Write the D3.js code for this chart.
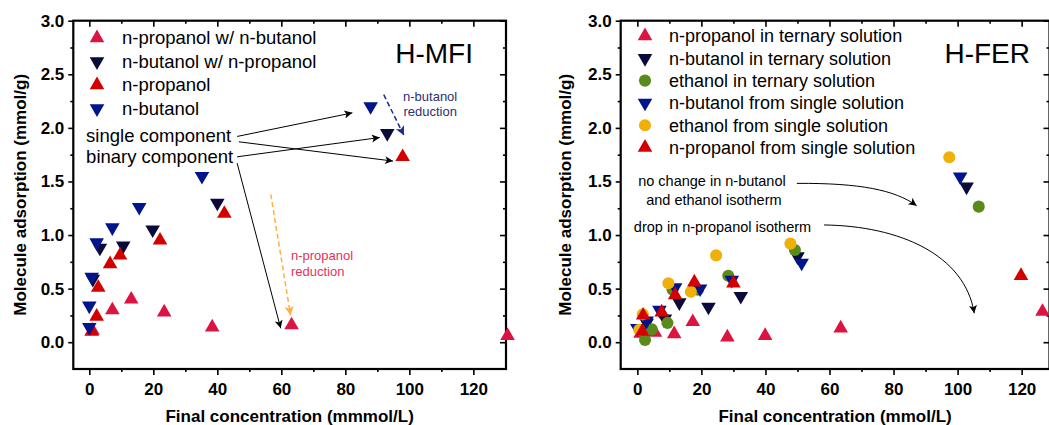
<!DOCTYPE html>
<html><head><meta charset="utf-8">
<script src="https://cdn.jsdelivr.net/npm/d3@7"></script>
<style>
body{margin:0;background:#fff}
svg{display:block}
text{font-family:Arial,"Liberation Sans",sans-serif}
</style>
</head><body>
<svg id="chart" width="1049" height="425"></svg>
<script>
// ---------- shared axis ticks ----------
const xMajorTicks = [0, 20, 40, 60, 80, 100, 120];
const xMinorTicks = [10, 30, 50, 70, 90, 110];
const yMajorTicks = [0, 0.5, 1.0, 1.5, 2.0, 2.5, 3.0];
const yMinorTicks = [0.25, 0.75, 1.25, 1.75, 2.25, 2.75];

// ---------- H-MFI (left) ----------
const mfiLegend = ["n-propanol w/ n-butanol", "n-butanol w/ n-propanol", "n-propanol", "n-butanol"];
const mfiPropBinX = [1.0, 7.2, 13.1, 23.4, 38.4, 63.2, 130.7];
const mfiPropBinY = [0.11, 0.30, 0.40, 0.28, 0.14, 0.16, 0.06];
const mfiButBinX = [1.1, 3.3, 10.6, 19.8, 40.0, 93.1];
const mfiButBinY = [0.59, 0.88, 0.90, 1.05, 1.30, 1.95];
const mfiPropX = [0.75, 2.3, 2.8, 6.5, 9.6, 22.1, 42.2, 97.9];
const mfiPropY = [0.10, 0.24, 0.51, 0.73, 0.81, 0.95, 1.20, 1.73];
const mfiButX = [0.0, 0.0, 0.75, 2.3, 7.2, 15.6, 35.2, 87.9];
const mfiButY = [0.14, 0.34, 0.61, 0.93, 1.07, 1.26, 1.55, 2.20];

// ---------- H-FER (right) ----------
const ferLegend = ["n-propanol in ternary solution", "n-butanol in ternary solution", "ethanol in ternary solution",
                   "n-butanol from single solution", "ethanol from single solution", "n-propanol from single solution"];
const ferPropTerX = [1.0, 5.5, 11.5, 17.3, 28.1, 39.9, 63.5, 126.5];
const ferPropTerY = [0.08, 0.09, 0.077, 0.19, 0.047, 0.06, 0.13, 0.285];
const ferButTerX = [2.9, 8.6, 13.1, 22.2, 32.3, 50.0, 102.8];
const ferButTerY = [0.18, 0.22, 0.37, 0.33, 0.43, 0.80, 1.45];
const ferEthTerX = [2.4, 4.5, 9.4, 11.0, 18.9, 28.4, 49.2, 106.6];
const ferEthTerY = [0.02, 0.12, 0.18, 0.49, 0.49, 0.62, 0.86, 1.265];
const ferButX = [0.0, 2.9, 6.9, 11.8, 19.6, 29.5, 51.3, 100.8];
const ferButY = [0.13, 0.20, 0.30, 0.51, 0.50, 0.58, 0.74, 1.545];
const ferEthX = [0.6, 1.7, 9.7, 16.7, 24.6, 47.8, 97.4];
const ferEthY = [0.115, 0.26, 0.55, 0.47, 0.81, 0.92, 1.726];
const ferPropX = [1.5, 1.8, 7.6, 11.8, 17.8, 30.0, 119.8];
const ferPropY = [0.10, 0.25, 0.28, 0.44, 0.56, 0.55, 0.62];

const C = {crimson:"#dc1442", red:"#d40000", dark:"#0b0b3b", navy:"#00148c", green:"#5b8a1c", gold:"#f0b00a"};

const zip = (xs, ys) => xs.map((x, i) => ({x, y: ys[i]}));

const svg = d3.select("#chart");
const defs = svg.append("defs");
function arrowMarker(id, color, w, h){
  defs.append("marker").attr("id", id).attr("viewBox", "0 0 10 10").attr("refX", 10).attr("refY", 5)
    .attr("markerUnits", "userSpaceOnUse").attr("markerWidth", w).attr("markerHeight", h).attr("orient", "auto")
    .append("path").attr("d", "M0,0 L10,5 L0,10 L2.5,5 Z").attr("fill", color);
}
arrowMarker("ahBlack", "#000", 11, 8);
arrowMarker("ahBlue", "#1b2a8a", 11, 9);
arrowMarker("ahOrange", "#ffb040", 11, 9);

const TRI = 92, CIRC = 115;
function symbolPath(kind){
  const t = kind === "circle" ? d3.symbolCircle : d3.symbolTriangle;
  return d3.symbol().type(t).size(kind === "circle" ? CIRC : TRI)();
}

function drawPanel(cfg){
  const g = svg.append("g");
  const x = d3.scaleLinear().domain(cfg.xDomain).range(cfg.xRange);
  const y = d3.scaleLinear().domain([-0.25, 3.0]).range([369, 20.7]);
  const [x0, x1] = cfg.xRange, y0 = 369, y1 = 20.7;
  const fmt = d3.format(".1f");

  // axes
  g.append("g").attr("transform", `translate(0,${y0})`)
    .call(d3.axisBottom(x).tickValues(xMajorTicks).tickSize(6).tickPadding(8).tickSizeOuter(0));
  g.append("g").attr("transform", `translate(0,${y0})`)
    .call(d3.axisBottom(x).tickValues(xMinorTicks).tickSize(3).tickFormat("").tickSizeOuter(0));
  g.append("g").attr("transform", `translate(0,${y1})`)
    .call(d3.axisTop(x).tickValues(xMajorTicks).tickSize(-6).tickFormat("").tickSizeOuter(0));
  g.append("g").attr("transform", `translate(0,${y1})`)
    .call(d3.axisTop(x).tickValues(xMinorTicks).tickSize(-3).tickFormat("").tickSizeOuter(0));
  g.append("g").attr("transform", `translate(${x0},0)`)
    .call(d3.axisLeft(y).tickValues(yMajorTicks).tickSize(5).tickPadding(4).tickFormat(fmt).tickSizeOuter(0));
  g.append("g").attr("transform", `translate(${x0},0)`)
    .call(d3.axisLeft(y).tickValues(yMinorTicks).tickSize(3).tickFormat("").tickSizeOuter(0));
  g.append("g").attr("transform", `translate(${x1},0)`)
    .call(d3.axisRight(y).tickValues(yMajorTicks).tickSize(-6).tickFormat("").tickSizeOuter(0));
  g.append("g").attr("transform", `translate(${x1},0)`)
    .call(d3.axisRight(y).tickValues(yMinorTicks).tickSize(-3).tickFormat("").tickSizeOuter(0));
  g.selectAll(".domain").remove();
  g.selectAll(".tick line").attr("stroke", "#000").attr("stroke-width", 1.6);
  g.selectAll(".tick text").attr("fill", "#000").style("font-size", "17px").style("font-weight", "bold")
    .style("font-family", "Arial, 'Liberation Sans', sans-serif");

  g.append("rect").attr("x", x0).attr("y", y1).attr("width", x1 - x0).attr("height", y0 - y1)
    .attr("fill", "none").attr("stroke", "#000").attr("stroke-width", 2.2);

  // axis titles
  g.append("text").attr("x", (x0 + x1) / 2).attr("y", 421.5).attr("text-anchor", "middle")
    .style("font-size", "17px").style("font-weight", "bold").text(cfg.xTitle);
  g.append("text").attr("transform", `translate(${cfg.yTitleX},${(y0 + y1) / 2}) rotate(-90)`)
    .attr("text-anchor", "middle").attr("dy", "0.35em")
    .style("font-size", "17px").style("font-weight", "bold").text("Molecule adsorption (mmol/g)");

  // panel title
  g.append("text").attr("x", cfg.titleX).attr("y", 63).attr("text-anchor", "end")
    .style("font-size", "28px").text(cfg.title);

  // annotations (under points)
  const ann = g.append("g");
  (cfg.lines || []).forEach(a => {
    ann.append("line").attr("x1", x(a.x1)).attr("y1", y(a.y1)).attr("x2", x(a.x2)).attr("y2", y(a.y2))
      .attr("stroke", a.color).attr("stroke-width", a.w).attr("stroke-dasharray", a.dash || null)
      .attr("marker-end", `url(#${a.marker})`);
  });
  (cfg.curves || []).forEach(a => {
    const p = d3.path();
    p.moveTo(x(a.p[0]), y(a.p[1]));
    p.bezierCurveTo(x(a.p[2]), y(a.p[3]), x(a.p[4]), y(a.p[5]), x(a.p[6]), y(a.p[7]));
    ann.append("path").attr("d", p.toString()).attr("fill", "none").attr("stroke", "#000")
      .attr("stroke-width", 1).attr("marker-end", "url(#ahBlack)");
  });
  (cfg.texts || []).forEach(t => {
    ann.append("text").attr("x", x(t.x)).attr("y", y(t.y)).attr("dy", "0.35em")
      .attr("text-anchor", t.anchor || "start").attr("fill", t.color || "#000")
      .style("font-size", t.size + "px").text(t.text);
  });

  // points
  cfg.series.forEach(s => {
    g.append("g").selectAll("path").data(s.data).join("path")
      .attr("d", symbolPath(s.shape))
      .attr("transform", d => `translate(${x(d.x)},${y(d.y)})` + (s.shape === "down" ? " rotate(180)" : ""))
      .attr("fill", s.color);
  });

  // legend
  const lg = g.append("g");
  cfg.series.forEach((s, i) => {
    const ly = cfg.legendY + i * cfg.legendStep;
    lg.append("path").attr("d", symbolPath(s.shape))
      .attr("transform", `translate(${cfg.legendMarkX},${ly})` + (s.shape === "down" ? " rotate(180)" : ""))
      .attr("fill", s.color);
    lg.append("text").attr("x", cfg.legendTextX).attr("y", ly).attr("dy", "0.35em")
      .style("font-size", cfg.legendSize + "px").text(cfg.legendLabels[i]);
  });
}

drawPanel({
  xDomain: [-5, 130.2], xRange: [73.3, 506],
  xTitle: "Final concentration (mmmol/L)", yTitleX: 20,
  title: "H-MFI", titleX: 473,
  legendLabels: mfiLegend, legendY: 38, legendStep: 23.5, legendMarkX: 97, legendTextX: 122, legendSize: 18.5,
  series: [
    {shape: "up", color: C.crimson, data: zip(mfiPropBinX, mfiPropBinY)},
    {shape: "down", color: C.dark, data: zip(mfiButBinX, mfiButBinY)},
    {shape: "up", color: C.red, data: zip(mfiPropX, mfiPropY)},
    {shape: "down", color: C.navy, data: zip(mfiButX, mfiButY)}
  ],
  lines: [
    {x1: 46.2, y1: 1.92, x2: 82.2, y2: 2.14, color: "#000", w: 1, marker: "ahBlack"},
    {x1: 46.7, y1: 1.87, x2: 94.9, y2: 1.69, color: "#000", w: 1, marker: "ahBlack"},
    {x1: 46.2, y1: 1.73, x2: 90.75, y2: 1.91, color: "#000", w: 1, marker: "ahBlack"},
    {x1: 46.2, y1: 1.67, x2: 59.8, y2: 0.13, color: "#000", w: 1, marker: "ahBlack"},
    {x1: 92.0, y1: 2.31, x2: 98.3, y2: 1.93, color: "#1b2a8a", w: 1.5, dash: "5,3", marker: "ahBlue"},
    {x1: 56.7, y1: 1.38, x2: 62.9, y2: 0.25, color: "#ffb040", w: 1.5, dash: "5,3", marker: "ahOrange"}
  ],
  texts: [
    {x: -1.0, y: 1.924, text: "single component", size: 18.5},
    {x: -1.0, y: 1.729, text: "binary component", size: 18.5},
    {x: 106.5, y: 2.297, text: "n-butanol", size: 13, anchor: "middle", color: "#2e3070"},
    {x: 106.5, y: 2.151, text: "reduction", size: 13, anchor: "middle", color: "#2e3070"},
    {x: 63.0, y: 0.805, text: "n-propanol", size: 13, color: "#e8315a"},
    {x: 63.0, y: 0.656, text: "reduction", size: 13, color: "#e8315a"}
  ]
});

drawPanel({
  xDomain: [-5.2, 128.7], xRange: [620.7, 1049.5],
  xTitle: "Final concentration (mmol/L)", yTitleX: 565,
  title: "H-FER", titleX: 1030,
  legendLabels: ferLegend, legendY: 36, legendStep: 22.3, legendMarkX: 645, legendTextX: 669, legendSize: 18,
  series: [
    {shape: "up", color: C.crimson, data: zip(ferPropTerX, ferPropTerY)},
    {shape: "down", color: C.dark, data: zip(ferButTerX, ferButTerY)},
    {shape: "circle", color: C.green, data: zip(ferEthTerX, ferEthTerY)},
    {shape: "down", color: C.navy, data: zip(ferButX, ferButY)},
    {shape: "circle", color: C.gold, data: zip(ferEthX, ferEthY)},
    {shape: "up", color: C.red, data: zip(ferPropX, ferPropY)}
  ],
  curves: [
    {p: [49.8, 1.482, 69.5, 1.486, 80.4, 1.421, 87.2, 1.274]},
    {p: [58.3, 1.094, 82.0, 1.085, 102.3, 0.814, 105.2, 0.27]}
  ],
  texts: [
    {x: 23.3, y: 1.501, text: "no change in n-butanol", size: 14.5, anchor: "middle"},
    {x: 23.9, y: 1.327, text: "and ethanol isotherm", size: 14.5, anchor: "middle"},
    {x: -1.1, y: 1.076, text: "drop in n-propanol isotherm", size: 14.5}
  ]
});
</script>
</body></html>
